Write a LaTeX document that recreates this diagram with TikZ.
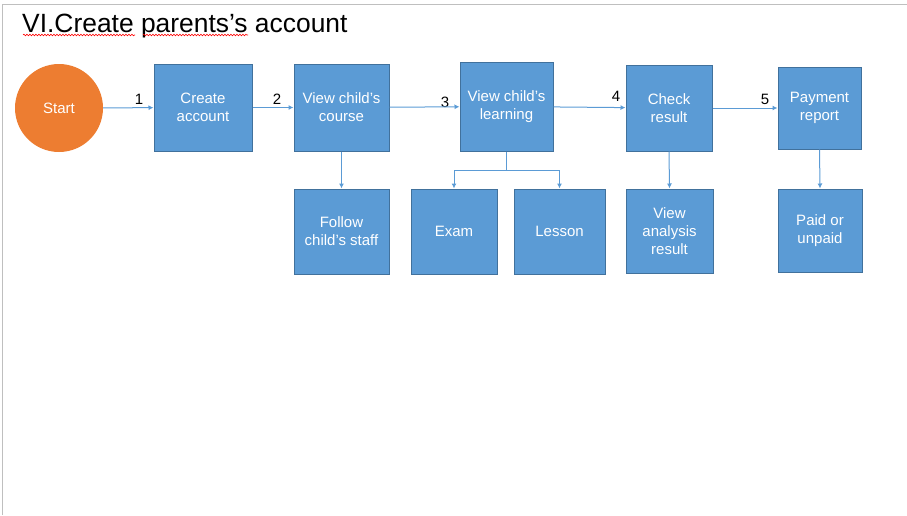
\documentclass[tikz,border=0pt]{standalone}
\usepackage{fontspec}
\setmainfont{Liberation Sans}
\usetikzlibrary{arrows.meta,decorations.pathmorphing}
\definecolor{boxblue}{HTML}{5B9BD5}
\definecolor{boxedge}{HTML}{41719C}
\definecolor{startorange}{HTML}{ED7D31}
\definecolor{framegray}{HTML}{BFBFBF}
\tikzset{
  stepbox/.style={draw=boxedge, fill=boxblue, line width=1pt, text=white,
    align=center, inner sep=0pt, font=\fontsize{15}{18}\selectfont},
  flow/.style={draw=boxblue, line width=1pt, -{Latex[length=5pt,width=5pt]}},
  steplabel/.style={font=\fontsize{15}{18}\selectfont, inner sep=0pt},
  spell/.style={draw=red, line width=0.6pt, decorate,
    decoration={snake, amplitude=0.8pt, segment length=3pt}}
}

\begin{document}
\begin{tikzpicture}[x=1pt, y=-1pt]
  \useasboundingbox (0,0) rectangle (907,515);
  % Frame
  \draw[framegray, line width=1pt] (2,515) -- (2,4) -- (907,4);
  % Title
  \node[anchor=base west, inner sep=0pt, font=\fontsize{26.4}{30}\selectfont] (title) at (22,32) {VI.Create parents’s account};
  \draw[spell] (23,35) -- (135,35);
  \draw[spell] (143,35) -- (248,35);
  % Main steps
  \node[circle, fill=startorange, minimum size=88pt, inner sep=0pt, text=white, font=\fontsize{15}{18}\selectfont] (start) at (59,108) {Start};
  \node[stepbox, minimum width=98pt, minimum height=87pt] (create) at (203,107.5) {Create\\account};
  \node[stepbox, minimum width=95pt, minimum height=87pt] (course) at (341.5,107.5) {View child’s\\course};
  \node[stepbox, minimum width=93pt, minimum height=89pt] (learning) at (506.5,106.5) {View child’s\\learning};
  \node[stepbox, minimum width=86pt, minimum height=86pt] (check) at (669,108) {Check\\result};
  \node[stepbox, minimum width=83pt, minimum height=82pt] (payment) at (819.5,108) {Payment\\report};
  % Sub steps
  \node[stepbox, minimum width=95pt, minimum height=85pt] (follow) at (341.5,231.5) {Follow\\child’s staff};
  \node[stepbox, minimum width=86pt, minimum height=85pt] (exam) at (454,231.5) {Exam};
  \node[stepbox, minimum width=91pt, minimum height=85pt] (lesson) at (559.5,231.5) {Lesson};
  \node[stepbox, minimum width=87pt, minimum height=84pt] (analysis) at (669.5,231) {View\\analysis\\result};
  \node[stepbox, minimum width=84pt, minimum height=83pt] (paid) at (820,230.5) {Paid or\\unpaid};
  % Step numbers
  \node[steplabel] (n1) at (139,99) {1};
  \node[steplabel] (n2) at (277,99) {2};
  \node[steplabel] (n3) at (445,102) {3};
  \node[steplabel] (n4) at (616,96) {4};
  \node[steplabel] (n5) at (765,99) {5};
  % Connections
  \draw[flow] (start) -- (create);
  \draw[flow] (create) -- (course);
  \draw[flow] (course) -- (learning);
  \draw[flow] (learning) -- (check);
  \draw[flow] (check) -- (payment);
  \draw[flow] (course) -- (follow);
  \draw[draw=boxblue, line width=1pt] (learning.south) -- ++(0,19) coordinate (fork);
  \draw[flow] (fork) -| (exam.north);
  \draw[flow] (fork) -| (lesson.north);
  \draw[flow] (check.south) -- (analysis.north);
  \draw[flow] (payment.south) -- (paid.north);
\end{tikzpicture}
\end{document}
